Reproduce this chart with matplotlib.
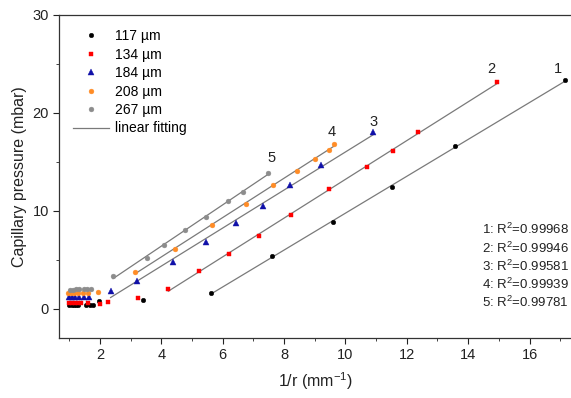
import numpy as np
import matplotlib
matplotlib.use("Agg")
import matplotlib.pyplot as plt
from matplotlib.ticker import MultipleLocator

plt.rcParams['font.family'] = ['Liberation Sans', 'DejaVu Sans']
plt.rcParams['mathtext.fontset'] = 'custom'
plt.rcParams['mathtext.rm'] = 'Liberation Sans'
plt.rcParams['mathtext.it'] = 'Liberation Sans:italic'
plt.rcParams['mathtext.bf'] = 'Liberation Sans:bold'

# data
x_117 = [1.0, 1.08, 1.15, 1.22, 1.3, 1.55, 1.68, 1.78, 1.98, 3.42, 5.63, 7.62, 9.58, 11.52, 13.57, 17.16]
y_117 = [0.32, 0.33, 0.33, 0.34, 0.35, 0.34, 0.36, 0.35, 0.74, 0.92, 1.6, 5.33, 8.84, 12.37, 16.55, 23.3]

x_134 = [1.0, 1.08, 1.18, 1.28, 1.38, 1.6, 2.01, 2.25, 3.24, 4.23, 5.24, 6.2, 7.17, 8.22, 9.48, 10.70, 11.56, 12.36, 14.94]
y_134 = [0.55, 0.56, 0.57, 0.58, 0.6, 0.62, 0.51, 0.64, 1.13, 2.0, 3.82, 5.58, 7.44, 9.58, 12.24, 14.45, 16.1, 18.0, 23.1]

x_184 = [0.98, 1.09, 1.2, 1.33, 1.5, 1.66, 2.35, 3.21, 4.37, 5.46, 6.44, 7.31, 8.2, 9.2, 10.91]
y_184 = [1.2, 1.2, 1.2, 1.21, 1.2, 1.2, 1.76, 2.85, 4.76, 6.76, 8.74, 10.5, 12.6, 14.7, 17.98]

x_208 = [0.95, 1.05, 1.15, 1.3, 1.45, 1.6, 1.95, 3.15, 4.44, 5.67, 6.76, 7.65, 8.41, 9.01, 9.45, 9.62]
y_208 = [1.6, 1.6, 1.62, 1.6, 1.62, 1.63, 1.66, 3.72, 6.12, 8.53, 10.67, 12.6, 14.07, 15.32, 16.17, 16.79]

x_267 = [1.03, 1.12, 1.22, 1.32, 1.48, 1.58, 1.7, 2.43, 3.54, 4.08, 4.76, 5.45, 6.16, 6.67, 7.48]
y_267 = [1.92, 1.94, 1.95, 1.96, 1.95, 1.96, 1.97, 3.29, 5.17, 6.52, 8.0, 9.31, 10.94, 11.9, 13.88]

labels = ['117 µm', '134 µm', '184 µm', '208 µm', '267 µm']
fit_start = [10, 9, 6, 7, 7]  # first point used in the linear fit
r2_values = ['0.99968', '0.99946', '0.99581', '0.99939', '0.99781']
curve_numbers = ['1', '2', '3', '4', '5']

series = [(x_117, y_117), (x_134, y_134), (x_184, y_184), (x_208, y_208), (x_267, y_267)]
colors = ['black', '#ff0000', '#1010a8', '#ff8c26', '#8c8c8c']
markers = ['o', 's', '^', 'o', 'o']
msizes = [3.3, 3.0, 4.0, 3.5, 3.5]

fig = plt.figure(figsize=(5.71, 3.98), dpi=100)
ax = fig.add_axes([0.1039, 0.1508, 0.8961, 0.8123])

fit_color = '#7a7a7a'
for (xs, ys), lab, c, m, ms, k in zip(series, labels, colors, markers, msizes, fit_start):
    xs = np.array(xs)
    ys = np.array(ys)
    ax.plot(xs, ys, linestyle='none', marker=m, color=c, markersize=ms,
            markeredgewidth=0.3, label=lab, zorder=3)
    p = np.polyfit(xs[k:], ys[k:], 1)
    xf = np.array([xs[k:].min(), xs[k:].max()])
    ax.plot(xf, np.polyval(p, xf), color=fit_color, lw=0.9, zorder=2)

ax.plot([], [], color=fit_color, lw=0.9, label='linear fitting')

# curve numbers above the line ends
num_pos = [(16.92, 24.5), (14.74, 24.5), (10.93, 19.05), (9.56, 18.05), (7.6, 15.35)]
for t, (px, py) in zip(curve_numbers, num_pos):
    ax.text(px, py, t, fontsize=10.5, ha='center', va='center', color='#222222')

# R^2 block
for i, (t, r) in enumerate(zip(curve_numbers, r2_values)):
    ax.text(0.996, 0.335 - i * 0.0566, f'{t}: R$^2$={r}', transform=ax.transAxes,
            fontsize=9.5, ha='right', va='center', color='#222222')

ax.set_xlim(0.68, 17.35)
ax.set_ylim(-3, 30)
ax.xaxis.set_major_locator(MultipleLocator(2))
ax.xaxis.set_minor_locator(MultipleLocator(1))
ax.yaxis.set_major_locator(MultipleLocator(10))
ax.yaxis.set_minor_locator(MultipleLocator(5))
ax.set_xticks([2, 4, 6, 8, 10, 12, 14, 16])
ax.tick_params(which='both', direction='out', labelsize=10.5, colors='#222222')
ax.tick_params(which='major', length=4)
ax.tick_params(which='minor', length=2.5)
ax.spines['right'].set_visible(False)
for s in ['left', 'bottom', 'top']:
    ax.spines[s].set_color('#333333')
    ax.spines[s].set_linewidth(0.9)

ax.set_xlabel('1/r (mm$^{-1}$)', fontsize=11.5, color='#222222', labelpad=6)
ax.set_ylabel('Capillary pressure (mbar)', fontsize=11.5, color='#222222', labelpad=4)

ax.legend(loc='upper left', frameon=False, fontsize=10, handlelength=2.6,
          handletextpad=0.4, labelspacing=0.32, borderaxespad=0.6,
          bbox_to_anchor=(0.0, 0.998))

fig.savefig('out.png', dpi=100)
